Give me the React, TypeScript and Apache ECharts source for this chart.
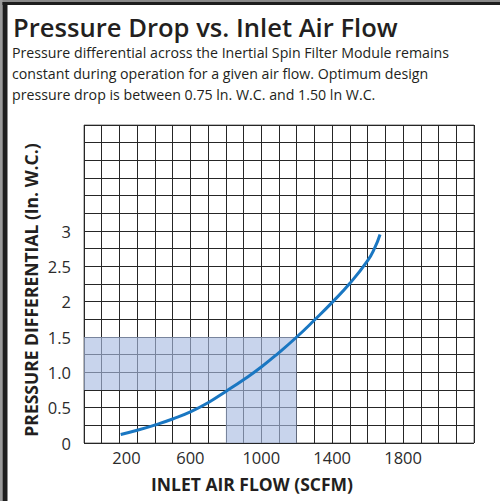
import React, { useEffect, useRef } from "react";
import * as echarts from "echarts";

const flowValues = [207, 300, 400, 500, 600, 700, 800, 900, 1000, 1100, 1200, 1300, 1400, 1500, 1600, 1640, 1670];
const pressureValues = [0.12, 0.18, 0.255, 0.34, 0.44, 0.57, 0.73, 0.895, 1.075, 1.28, 1.5, 1.74, 1.99, 2.26, 2.58, 2.76, 2.95];
const xTickLabels = [200, 600, 1000, 1400, 1800];
const yTickLabels: Record<string, string> = { "0": "0", "0.5": "0.5", "1": "1.0", "1.5": "1.5", "2": "2", "2.5": "2.5", "3": "3" };
const bandHorizontal = { x: [0, 1200], y: [0.75, 1.5] };
const bandVertical = { x: [800, 1200], y: [0, 0.75] };

const titleText = "Pressure Drop vs. Inlet Air Flow";
const subtitleText =
  "Pressure differential across the Inertial Spin Filter Module remains\nconstant during operation for a given air flow. Optimum design\npressure drop is between 0.75 ln. W.C. and 1.50 ln W.C.";
const yTitle = "PRESSURE DIFFERENTIAL (In. W.C.)";
const xTitle = "INLET AIR FLOW (SCFM)";

const FONT = "'Open Sans', 'Noto Sans', sans-serif";

export default function App() {
  const ref = useRef<HTMLDivElement>(null);
  useEffect(() => {
    document.body.style.margin = "0";
    if (!ref.current) return;
    const chart = echarts.init(ref.current, undefined, { renderer: "svg" });
    chart.setOption({
      animation: false,
      backgroundColor: "#ffffff",
      grid: { left: 84, right: 26, top: 125, bottom: 58, show: true, borderColor: "#777", borderWidth: 1, containLabel: false },
      xAxis: {
        type: "value",
        min: 0,
        max: 2200,
        interval: 100,
        axisLine: { show: false },
        axisTick: { show: false },
        splitLine: { show: true, lineStyle: { color: "#262626", width: 1 } },
        axisLabel: {
          color: "#2b2b2b",
          fontFamily: FONT,
          fontSize: 16.5,
          margin: 6,
          formatter: (v: number) => (xTickLabels.includes(v) ? (v === 200 ? "{a|200}" : String(v)) : ""),
          rich: { a: { fontFamily: FONT, fontSize: 16.5, color: "#2b2b2b", padding: [0, 0, 0, 14] } },
        },
      },
      yAxis: {
        type: "value",
        min: 0,
        max: 4.5,
        interval: 0.25,
        axisLine: { show: false },
        axisTick: { show: false },
        splitLine: { show: true, lineStyle: { color: "#262626", width: 1 } },
        axisLabel: {
          color: "#2b2b2b",
          fontFamily: FONT,
          fontSize: 16.5,
          margin: 13,
          padding: [0, 0, 7, 0],
          formatter: (v: number) => yTickLabels[String(v)] ?? "",
        },
      },
      series: [
        {
          type: "line",
          data: flowValues.map((x, i) => [x, pressureValues[i]]),
          smooth: 0.5,
          showSymbol: false,
          lineStyle: { color: "#1a77c2", width: 3 },
          z: 5,
          markArea: {
            silent: true,
            itemStyle: { color: "rgba(168,187,225,0.63)" },
            data: [
              [
                { coord: [bandHorizontal.x[0], bandHorizontal.y[1]] },
                { coord: [bandHorizontal.x[1], bandHorizontal.y[0]] },
              ],
              [
                { coord: [bandVertical.x[0], bandVertical.y[1]] },
                { coord: [bandVertical.x[1], bandVertical.y[0]] },
              ],
            ],
          },
        },
      ],
      graphic: [
        { type: "rect", shape: { x: 0, y: 0, width: 500, height: 2 }, style: { fill: "#8a8a8a" } },
        { type: "rect", shape: { x: 0, y: 0, width: 2.5, height: 501 }, style: { fill: "#9a9a9a" } },
        { type: "rect", shape: { x: 2.5, y: 2, width: 497.5, height: 3 }, style: { fill: "#1e1e1e" } },
        { type: "rect", shape: { x: 2.5, y: 2, width: 5, height: 499 }, style: { fill: "#1e1e1e" } },
        {
          type: "text",
          x: 13,
          y: 27,
          style: { text: titleText, fontFamily: FONT, fontSize: 25.6, fontWeight: 600, fill: "#231f20", verticalAlign: "middle" },
        },
        {
          type: "text",
          x: 12,
          y: 42,
          style: { text: subtitleText, fontFamily: FONT, fontSize: 14.2, lineHeight: 21, fill: "#231f20", verticalAlign: "top" },
        },
        {
          type: "text",
          x: 31,
          y: 290,
          rotation: Math.PI / 2,
          style: { text: yTitle, fontFamily: FONT, fontSize: 17.5, fontWeight: "bold", fill: "#231f20", align: "center", verticalAlign: "middle" },
        },
        {
          type: "text",
          x: 252,
          y: 484,
          style: { text: xTitle, fontFamily: FONT, fontSize: 17.5, fontWeight: "bold", fill: "#231f20", align: "center", verticalAlign: "middle" },
        },
      ],
    });
    return () => chart.dispose();
  }, []);
  return <div ref={ref} style={{ width: 500, height: 501 }} />;
}
